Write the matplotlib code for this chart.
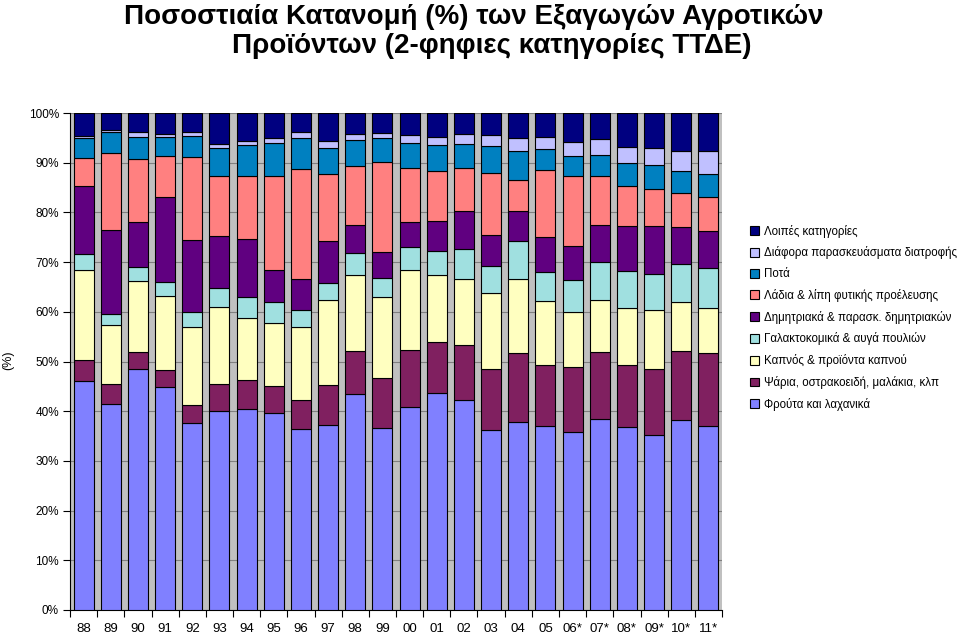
import matplotlib
matplotlib.use("Agg")
import matplotlib.pyplot as plt
import numpy as np

plt.rcParams['font.family'] = ['Liberation Sans', 'DejaVu Sans']

years = ["88", "89", "90", "91", "92", "93", "94", "95", "96", "97", "98", "99",
         "00", "01", "02", "03", "04", "05", "06*", "07*", "08*", "09*", "10*", "11*"]

# cumulative tops (%), bottom to top
fruit_top   = [46.0, 41.5, 48.4, 44.8, 37.7, 40.1, 40.5, 39.7, 36.5, 37.3, 43.5, 36.7,
               40.9, 43.7, 42.3, 36.3, 37.9, 37.1, 35.9, 38.5, 36.9, 35.2, 38.3, 37.1]
fish_top    = [50.4, 45.4, 52.0, 48.2, 41.3, 45.4, 46.2, 45.0, 42.3, 45.2, 52.2, 46.6,
               52.4, 54.0, 53.4, 48.4, 51.8, 49.2, 48.8, 52.0, 49.2, 48.4, 52.2, 51.8]
tobacco_top = [68.5, 57.3, 66.1, 63.1, 56.9, 60.9, 58.7, 57.7, 56.9, 62.3, 67.5, 62.9,
               68.5, 67.5, 66.7, 63.7, 66.7, 62.1, 59.9, 62.3, 60.7, 60.3, 61.9, 60.7]
dairy_top   = [71.6, 59.5, 69.0, 65.9, 59.9, 64.7, 62.9, 61.9, 60.3, 65.7, 71.8, 66.9,
               73.0, 72.2, 72.6, 69.2, 74.2, 68.0, 66.3, 70.0, 68.3, 67.7, 69.6, 68.8]
cereal_top  = [85.3, 76.4, 78.0, 83.1, 74.4, 75.2, 74.6, 68.5, 66.7, 74.2, 77.4, 72.0,
               78.0, 78.2, 80.2, 75.4, 80.2, 75.0, 73.2, 77.4, 77.2, 77.2, 77.0, 76.2]
oils_top    = [90.9, 91.9, 90.7, 91.3, 91.1, 87.3, 87.3, 87.3, 88.7, 87.7, 89.3, 90.1,
               88.9, 88.3, 88.9, 87.9, 86.5, 88.5, 87.3, 87.3, 85.3, 84.7, 83.9, 83.1]
drinks_top  = [95.0, 96.2, 95.2, 95.2, 95.4, 92.9, 93.5, 94.0, 95.0, 92.9, 94.6, 95.0,
               94.0, 93.5, 93.8, 93.3, 92.3, 92.7, 91.3, 91.5, 89.9, 89.5, 88.3, 87.7]
misc_top    = [95.4, 96.6, 96.2, 95.8, 96.2, 93.8, 94.4, 95.0, 96.2, 94.4, 95.8, 96.0,
               95.6, 95.2, 95.8, 95.6, 95.0, 95.2, 94.2, 94.8, 93.1, 92.9, 92.3, 92.3]
other_top   = [100.0] * 24

series_names = ["Φρούτα και λαχανικά",
                "Ψάρια, οστρακοειδή, μαλάκια, κλπ",
                "Καπνός & προϊόντα καπνού",
                "Γαλακτοκομικά & αυγά πουλιών",
                "Δημητριακά & παρασκ. δημητριακών",
                "Λάδια & λίπη φυτικής προέλευσης",
                "Ποτά",
                "Διάφορα παρασκευάσματα διατροφής",
                "Λοιπές κατηγορίες"]
colors = ["#8080FF", "#802060", "#FFFFC0", "#A0E0E0", "#600080",
          "#FF8080", "#0080C0", "#C0C0FF", "#000080"]
tops = [fruit_top, fish_top, tobacco_top, dairy_top, cereal_top,
        oils_top, drinks_top, misc_top, other_top]

fig = plt.figure(figsize=(9.59, 6.35), dpi=100)
ax = fig.add_axes([70/959, 1-610/635, (722-70)/959, (610-113)/635])
ax.set_facecolor("#C0C0C0")

x = np.arange(len(years))
prev = np.zeros(len(years))
handles = []
for name, col, top in zip(series_names, colors, tops):
    t = np.array(top)
    h = ax.bar(x, t - prev, bottom=prev, width=0.74, color=col,
               edgecolor="black", linewidth=0.8, label=name, zorder=3)
    handles.append(h)
    prev = t

ax.set_xlim(-0.5, len(years) - 0.5)
ax.set_ylim(0, 100)
ax.set_yticks(np.arange(0, 101, 10))
ax.set_yticklabels([f"{v}%" for v in range(0, 101, 10)], fontsize=8.5)
ax.yaxis.grid(True, color="#808080", linewidth=0.8, zorder=0)
ax.set_axisbelow(True)

ax.set_xticks(x)
ax.set_xticklabels(years, fontsize=9.5)
ax.set_xticks(np.arange(-0.5, len(years), 1), minor=True)
ax.tick_params(axis='x', which='major', length=0, pad=9)
ax.tick_params(axis='x', which='minor', length=5, direction='out', width=0.8)
ax.tick_params(axis='y', length=5, direction='out', width=0.8, pad=3)

for s in ["top", "right"]:
    ax.spines[s].set_visible(False)
ax.spines["left"].set_color("black")
ax.spines["bottom"].set_color("black")

fig.text(8/959, 1-360/635, "(%)", rotation=90, fontsize=9, ha='center', va='center')

fig.text(474/959, 1-17/635, "Ποσοστιαία Κατανομή (%) των Εξαγωγών Αγροτικών",
         fontsize=20, fontweight='bold', ha='center', va='center')
fig.text(492/959, 1-46/635, "Προϊόντων (2-φηφιες κατηγορίες ΤΤΔΕ)",
         fontsize=20, fontweight='bold', ha='center', va='center')

leg = fig.legend(handles[::-1], series_names[::-1], loc='upper left',
                 bbox_to_anchor=(745/959, 1-220/635), frameon=False,
                 fontsize=8.3, handlelength=0.8, handleheight=0.8,
                 handletextpad=0.45, labelspacing=0.76, borderaxespad=0)

fig.savefig("out.png", dpi=100)
